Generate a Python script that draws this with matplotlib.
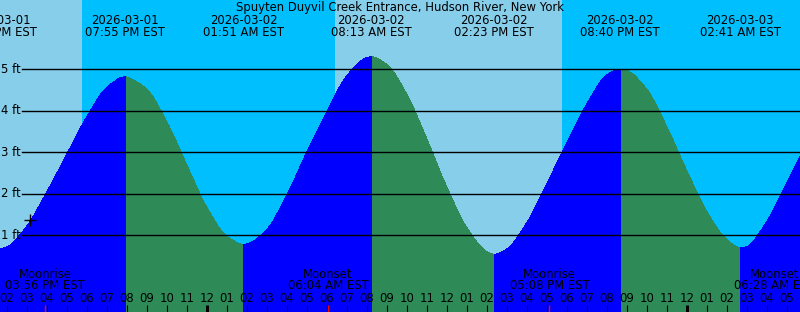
from datetime import datetime, timedelta

import matplotlib
matplotlib.use("Agg")
import matplotlib.pyplot as plt
import numpy as np
from matplotlib.patches import PathPatch
from matplotlib.path import Path

plt.rcParams["font.family"] = ["DejaVu Sans"]

BASE = datetime(2026, 3, 1)

title = "Spuyten Duyvil Creek Entrance, Hudson River, New York"

# tide extremes (time, height ft)
tide_times = ["2026-03-01 13:32", "2026-03-01 19:55", "2026-03-02 01:51", "2026-03-02 08:13",
              "2026-03-02 14:23", "2026-03-02 20:40", "2026-03-03 02:41"]
tide_heights = [0.66, 4.82, 0.78, 5.30, 0.54, 5.00, 0.70]

# hourly heights, 02 PM 3/1 .. 05 AM 3/3
hourly_start = 14
hourly_heights = [0.72, 1.22, 2.04, 2.95, 3.85, 4.56, 4.81, 4.52, 3.74, 2.70,
                  1.68, 0.98, 0.79, 1.14, 1.96, 3.00, 3.97, 4.84, 5.28, 5.12,
                  4.40, 3.33, 2.17, 1.19, 0.61, 0.67, 1.30, 2.24, 3.22, 4.16,
                  4.86, 4.97, 4.52, 3.62, 2.56, 1.58, 0.90, 0.73, 1.33, 2.26]
right_edge_height = 2.89

sun_times = ["2026-03-01 17:46", "2026-03-02 06:25", "2026-03-02 17:46"]  # sunset, sunrise, sunset

moon_times = ["2026-03-01 15:56", "2026-03-02 06:04", "2026-03-02 17:08", "2026-03-03 06:28"]
moon_names = ["Moonrise", "Moonset", "Moonrise", "Moonset"]

now_mark = (15.18, 1.38)
ft_levels = [1, 2, 3, 4, 5]


def to_hours(s):
    d = datetime.strptime(s, "%Y-%m-%d %H:%M")
    return (d - BASE).total_seconds() / 3600


def fmt(t):
    d = BASE + timedelta(hours=t)
    return d.strftime("%Y-%m-%d"), d.strftime("%I:%M %p") + " EST"


W, H = 800, 312
PX_HOUR = 20.0
X0 = hourly_start - 6.7 / PX_HOUR
X1 = X0 + W / PX_HOUR
ZERO_PX, PX_FT = 276.8, 41.5


def py(ypx):
    # pixel row (from top) -> height in ft
    return (ZERO_PX - ypx) / PX_FT


def tangents(xs, ys, flat):
    # monotone (Fritsch-Butland) slopes, zero at tide extremes
    n = len(xs)
    hk = np.diff(xs)
    dk = np.diff(ys) / hk
    m = np.zeros(n)
    for k in range(1, n - 1):
        if flat[k]:
            continue
        if dk[k - 1] * dk[k] > 0:
            w1 = 2 * hk[k] + hk[k - 1]
            w2 = hk[k] + 2 * hk[k - 1]
            m[k] = (w1 + w2) / (w1 / dk[k - 1] + w2 / dk[k])
    if not flat[-1]:
        m[-1] = dk[-1]
    return m


def fill_path(xs, ys, m, bottom):
    verts = [(xs[0], bottom), (xs[0], ys[0])]
    codes = [Path.MOVETO, Path.LINETO]
    for k in range(len(xs) - 1):
        h3 = (xs[k + 1] - xs[k]) / 3
        verts += [(xs[k] + h3, ys[k] + m[k] * h3),
                  (xs[k + 1] - h3, ys[k + 1] - m[k + 1] * h3),
                  (xs[k + 1], ys[k + 1])]
        codes += [Path.CURVE4] * 3
    verts += [(xs[-1], bottom), (xs[0], bottom)]
    codes += [Path.LINETO, Path.CLOSEPOLY]
    return Path(verts, codes)


tide_t = np.array([to_hours(s) for s in tide_times])
tide_h = np.array(tide_heights)
hour_t = np.arange(hourly_start, hourly_start + len(hourly_heights))

t_all = np.concatenate([tide_t, hour_t, [X1]])
h_all = np.concatenate([tide_h, hourly_heights, [right_edge_height]])
is_ext = np.concatenate([np.ones(len(tide_t), bool), np.zeros(len(hour_t) + 1, bool)])
order = np.argsort(t_all)
t_all, h_all, is_ext = t_all[order], h_all[order], is_ext[order]
slopes = tangents(t_all, h_all, is_ext)

fig = plt.figure(figsize=(W / 100, H / 100), dpi=100)
ax = fig.add_axes([0, 0, 1, 1])
ax.set_xlim(X0, X1)
ax.set_ylim(py(H), py(0))
ax.axis("off")

# night background, day bands
fig.patch.set_facecolor("#00bfff")
sun_t = [to_hours(s) for s in sun_times]
ax.axvspan(X0 - 1, sun_t[0], color="#87ceeb", lw=0, antialiased=False)
ax.axvspan(sun_t[1], sun_t[2], color="#87ceeb", lw=0, antialiased=False)

# whole curve in ebb green, flood (rising) parts in blue on top
bottom = py(H + 5)
ax.add_patch(PathPatch(fill_path(t_all, h_all, slopes, bottom),
                       facecolor="#2e8b57", edgecolor="none", antialiased=False))
bounds = sorted(set([t_all[0]] + list(tide_t) + [t_all[-1]]))
for a, b in zip(bounds[:-1], bounds[1:]):
    m = (t_all >= a) & (t_all <= b)
    if m.sum() < 2 or h_all[m][-1] < h_all[m][0]:
        continue
    ax.add_patch(PathPatch(fill_path(t_all[m], h_all[m], slopes[m], bottom),
                           facecolor="#0000ff", edgecolor="none", antialiased=False))

fs = 8.4

# ft lines
for lv in ft_levels:
    ax.plot([X0 + 22 / PX_HOUR, X1], [lv, lv], color="black", lw=1.0)
    ax.text(X0 + 20.5 / PX_HOUR, lv, f"{lv} ft", ha="right", va="center", fontsize=fs)

ax.plot(*now_mark, marker="+", ms=9, mew=1, color="black")

# top labels
ax.text(0.5 * (X0 + X1), py(7.5), title, ha="center", va="center", fontsize=fs)
for t in tide_t:
    d, tm = fmt(t)
    ax.text(t, py(20), d, ha="center", va="center", fontsize=fs)
    ax.text(t, py(32), tm, ha="center", va="center", fontsize=fs)

# hour ticks and labels
for t in hour_t:
    hr = int(t) % 24
    lab = f"{(hr % 12) or 12:02d}"
    ax.text(t, py(298), lab, ha="center", va="center", fontsize=fs)
    lw = 2.2 if hr == 0 else 0.8
    ax.plot([t, t], [py(305), py(H)], color="black", lw=lw, solid_capstyle="butt")

# moon events
fig.canvas.draw()
renderer = fig.canvas.get_renderer()
for s, name in zip(moon_times, moon_names):
    t = to_hours(s)
    ax.plot([t, t], [py(305), py(H)], color="red", lw=1.0, solid_capstyle="butt")
    _, tm = fmt(t)
    t1 = ax.text(t, py(274), name, ha="center", va="center", fontsize=fs)
    bb = t1.get_window_extent(renderer)
    cx = t
    if bb.x1 > W:
        cx = t - (bb.x1 - W + 1) / PX_HOUR
        t1.set_x(cx)
    ax.text(cx, py(285.5), tm, ha="center", va="center", fontsize=fs)

fig.savefig("out.png", dpi=100, facecolor=fig.get_facecolor())
